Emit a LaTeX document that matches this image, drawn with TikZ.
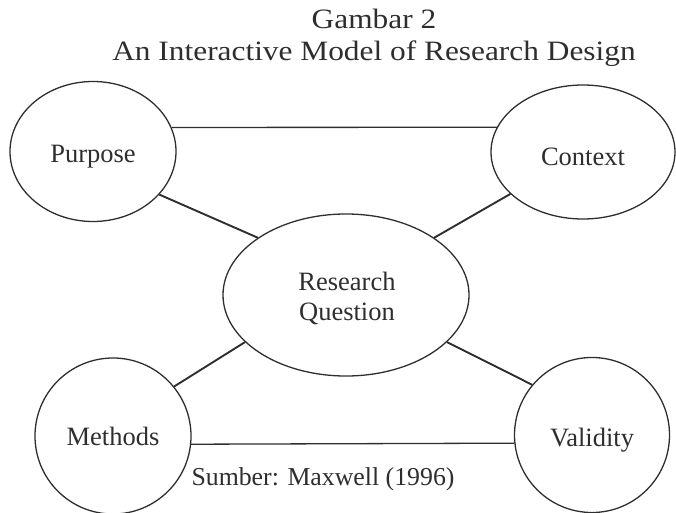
\documentclass[tikz,border=0pt]{standalone}
\usepackage{fontspec}
\setmainfont{Liberation Serif}
\usetikzlibrary{shapes.geometric}
\definecolor{ink}{HTML}{2E2E2E}
\begin{document}
\begin{tikzpicture}[x=1pt,y=-1pt,
  bubble/.style={ellipse, draw=ink, line width=1.3pt, inner sep=0pt, text=ink,
    text depth=0pt, font=\fontsize{26.5}{30}\selectfont},
  link/.style={draw=ink, line width=1.3pt},
  diag/.style={draw=ink, line width=1.9pt},
  lbl/.style={text=ink, inner sep=0pt}]
\useasboundingbox (0,0) rectangle (676,513);
% title
\node[lbl, anchor=base] (t1) at (374,29) {\fontsize{28}{30}\selectfont\scalebox{1.12}[1]{Gambar 2}};
\node[lbl, anchor=base] (t2) at (374,61) {\fontsize{28}{30}\selectfont\scalebox{1.12}[1]{An Interactive Model of Research Design}};
% bubbles
\node[bubble, minimum width=166pt, minimum height=140pt, text height=21pt] (pur) at (93,151.5) {Purpose};
\node[bubble, minimum width=184pt, minimum height=134pt, text height=26pt] (ctx) at (583,152) {Context};
\node[bubble, minimum width=246pt, minimum height=162pt] (rq) at (346,295) {};
\node[lbl, align=center, font=\fontsize{26.5}{30}\selectfont] (rqt) at (347,298) {Research\\Question};
\node[bubble, minimum width=156pt, minimum height=156pt, text height=18pt] (met) at (113,436) {Methods};
\node[bubble, minimum width=155pt, minimum height=155pt, text height=23pt] (val) at (592,435) {Validity};
% connectors
\draw[link] (pur.17) -- (ctx.164);
\draw[diag] (pur.-33) -- (rq.147);
\draw[diag] (ctx.210) -- (rq.33.5);
\draw[diag] (met.39) -- (rq.205);
\draw[diag] (val.140) -- (rq.-25);
\draw[link] (met.-6) -- (val.186);
% source
\node[lbl, anchor=base, font=\fontsize{25.8}{30}\selectfont] (src) at (323,485) {Sumber: Maxwell (1996)};
\end{tikzpicture}
\end{document}
